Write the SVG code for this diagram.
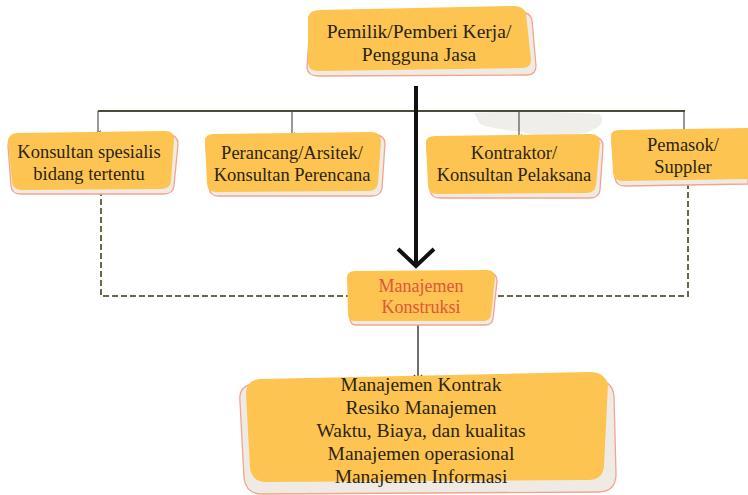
<svg xmlns="http://www.w3.org/2000/svg" width="748" height="495" viewBox="0 0 748 495">
  <defs>
    <style>
      .back { fill: #efebe4; stroke: #f2a48e; stroke-width: 1.3; }
      .front { fill: #fdc451; }
      .lbl { font-family: "Liberation Serif", "DejaVu Serif", serif; font-size: 18.5px; fill: #2a2412; text-anchor: middle; }
      .big { font-size: 19.5px; }
      .mk { font-family: "Liberation Serif", "DejaVu Serif", serif; font-size: 18px; fill: #e0563b; text-anchor: middle; }
      .tree { fill: none; stroke: #4d4a36; stroke-width: 2; }
      .drop { fill: none; stroke: #55524a; stroke-width: 1.2; }
      .dash { fill: none; stroke: #6b6847; stroke-width: 2; stroke-dasharray: 6 3; }
    </style>
    <marker id="tip" viewBox="0 0 10 10" refX="5" refY="9" markerWidth="6" markerHeight="6" orient="auto-start-reverse" markerUnits="userSpaceOnUse">
      <path d="M1,4 L5,9 L9,4" fill="none" stroke="#33302a" stroke-width="1.5"/>
    </marker>
  </defs>

  <!-- soft grey smudge behind the branch bar -->
  <path d="M474,113 Q520,110 600,114 Q608,126 585,133 Q550,139 522,132 Q492,129 480,124 Z" fill="#efeeea"/>

  <g id="connectors">
    <!-- branch bar and drops -->
    <path class="tree" d="M98,111 L685,111"/>
    <path class="drop" d="M98,111 L98,133" marker-end="url(#tip)"/>
    <path class="drop" d="M292,111 L292,135" marker-end="url(#tip)"/>
    <path class="drop" d="M519,111 L519,137" marker-end="url(#tip)"/>
    <path class="drop" d="M684,111 L684,132" marker-end="url(#tip)"/>
    <!-- main heavy arrow -->
    <path d="M416,86 L416,266" stroke="#111" stroke-width="4" fill="none"/>
    <path d="M398,249 L416,266 L434,249" stroke="#111" stroke-width="4" fill="none" stroke-linejoin="miter"/>
    <!-- dashed feeds into construction management -->
    <path class="dash" d="M101,190 L101,296 L348,296"/>
    <path class="dash" d="M688,183 L688,296 L496,296"/>
    <!-- thin arrow to the scope box -->
    <path d="M418,322 L418,380" stroke="#222" stroke-width="1.3" fill="none"/>
    <path d="M414,375 L418,380 L422,375" stroke="#222" stroke-width="1.3" fill="none"/>
  </g>

  <g id="owner">
    <path class="back" d="M310,22 Q312,14 322,14 L520,12 Q530,12 532,20 L536,66 Q536,75 527,75 L318,76 Q308,76 307,68 Z"/>
    <path class="front" d="M308,17 Q310,10 320,10 L514,6 Q524,6 526,14 L531,60 Q531,68 522,68 L318,71 Q309,71 308,63 Z"/>
    <text class="lbl big" x="419" y="38">Pemilik/Pemberi Kerja/</text>
    <text class="lbl big" x="419" y="61">Pengguna Jasa</text>
  </g>

  <g id="spesialis">
    <path class="back" d="M8,146 Q8,137 18,137 L168,135 Q178,135 178,144 L174,186 Q173,194 164,194 L20,194 Q12,194 11,186 Z"/>
    <path class="front" d="M8,141 Q9,133 18,133 L165,131 Q174,131 174,139 L171,181 Q170,189 161,189 L22,190 Q13,190 12,182 Z"/>
    <text class="lbl" x="89" y="158">Konsultan spesialis</text>
    <text class="lbl" x="89" y="180">bidang tertentu</text>
  </g>

  <g id="perancang">
    <path class="back" d="M206,146 Q205,137 215,137 L375,135 Q385,135 385,144 L382,188 Q381,196 372,196 L218,196 Q210,196 209,188 Z"/>
    <path class="front" d="M205,142 Q204,134 214,134 L371,132 Q381,132 381,141 L378,183 Q377,191 368,191 L216,192 Q208,192 207,184 Z"/>
    <text class="lbl" x="292" y="159">Perancang/Arsitek/</text>
    <text class="lbl" x="292" y="181">Konsultan Perencana</text>
  </g>

  <g id="kontraktor">
    <path class="back" d="M427,148 Q426,139 436,139 L593,137 Q603,137 603,146 L600,190 Q599,198 590,198 L440,198 Q431,198 430,190 Z"/>
    <path class="front" d="M426,144 Q425,136 435,136 L590,134 Q600,134 600,143 L596,185 Q595,193 586,193 L437,194 Q429,194 428,186 Z"/>
    <text class="lbl" x="514" y="159">Kontraktor/</text>
    <text class="lbl" x="514" y="181">Konsultan Pelaksana</text>
  </g>

  <g id="pemasok">
    <path class="back" d="M612,141 Q611,133 621,133 L748,132 L748,184 L625,186 Q616,186 615,178 Z"/>
    <path class="front" d="M611,137 Q610,130 620,130 L748,128 L748,179 L623,181 Q614,181 613,173 Z"/>
    <text class="lbl" x="683" y="151">Pemasok/</text>
    <text class="lbl" x="683" y="173">Suppler</text>
  </g>

  <g id="manajemen-konstruksi">
    <path class="back" d="M349,281 Q349,274 357,274 L489,273 Q497,273 497,281 L493,319 Q492,325 485,325 L356,325 Q350,325 350,318 Z"/>
    <path class="front" d="M347,278 Q347,271 355,271 L487,270 Q495,270 495,278 L491,315 Q490,321 483,321 L354,321 Q348,321 348,314 Z"/>
    <text class="mk" x="421" y="292">Manajemen</text>
    <text class="mk" x="421" y="313">Konstruksi</text>
  </g>

  <g id="lingkup">
    <path class="back" d="M240,402 Q238,384 256,384 L596,380 Q612,380 614,396 L616,474 Q616,492 598,492 L262,494 Q246,494 244,478 Z"/>
    <path class="front" d="M246,394 Q246,379 262,379 L590,372 Q604,372 608,384 L604,466 Q603,480 588,480 L266,482 Q252,482 250,468 Z"/>
    <text class="lbl big" x="421" y="391">Manajemen Kontrak</text>
    <text class="lbl big" x="421" y="414">Resiko Manajemen</text>
    <text class="lbl big" x="421" y="437">Waktu, Biaya, dan kualitas</text>
    <text class="lbl big" x="421" y="460">Manajemen operasional</text>
    <text class="lbl big" x="421" y="483">Manajemen Informasi</text>
  </g>
</svg>
